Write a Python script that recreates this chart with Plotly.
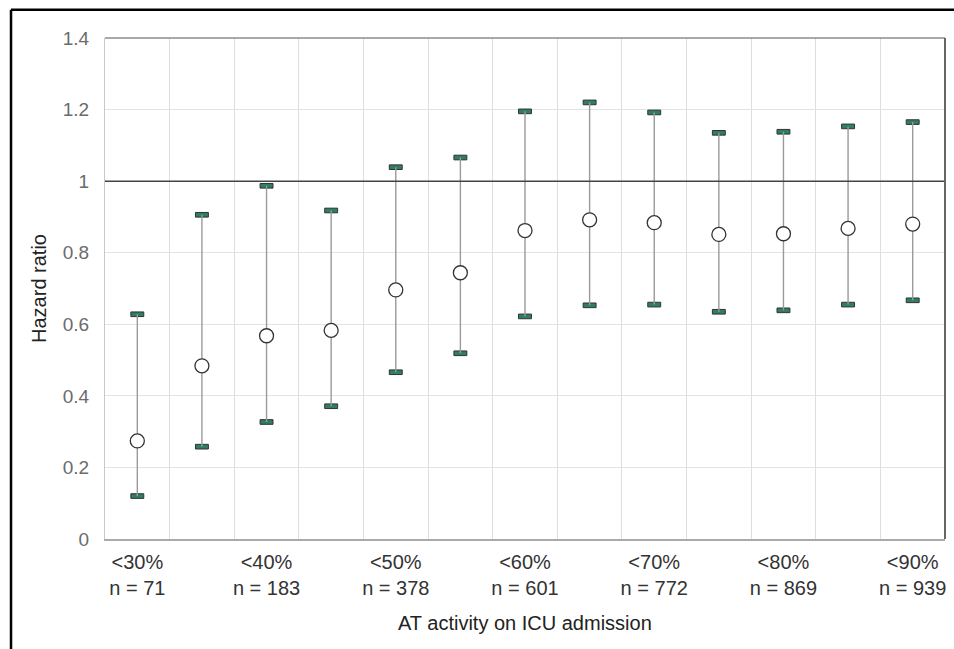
import plotly.graph_objects as go

# ---- data ----
categories = ["<30%", "<35%", "<40%", "<45%", "<50%", "<55%", "<60%",
              "<65%", "<70%", "<75%", "<80%", "<85%", "<90%"]
hazard_ratio = [0.274, 0.484, 0.568, 0.583, 0.696, 0.744, 0.862,
                0.892, 0.884, 0.851, 0.853, 0.868, 0.880]
ci_lower = [0.120, 0.258, 0.327, 0.371, 0.466, 0.519, 0.622,
            0.653, 0.655, 0.635, 0.639, 0.655, 0.667]
ci_upper = [0.628, 0.906, 0.987, 0.918, 1.039, 1.066, 1.195,
            1.220, 1.192, 1.135, 1.138, 1.153, 1.165]

tick_categories = ["<30%", "<40%", "<50%", "<60%", "<70%", "<80%", "<90%"]
tick_n = [71, 183, 378, 601, 772, 869, 939]

y_ticks = [0, 0.2, 0.4, 0.6, 0.8, 1.0, 1.2, 1.4]
reference_value = 1.0
x_title = "AT activity on ICU admission"
y_title = "Hazard ratio"

# ---- derived ----
xpos = list(range(len(categories)))
tick_pos = [categories.index(c) for c in tick_categories]
tick_text = [f"{c}<br>n = {n}" for c, n in zip(tick_categories, tick_n)]
err_plus = [u - h for u, h in zip(ci_upper, hazard_ratio)]
err_minus = [h - l for h, l in zip(hazard_ratio, ci_lower)]

CAP_H = 0.013
FONT = "Liberation Sans, Arial, sans-serif"

fig = go.Figure()

# caps (small green rectangles)
for vals in (ci_upper, ci_lower):
    fig.add_trace(go.Bar(
        x=xpos, y=[CAP_H] * len(vals), base=[v - CAP_H / 2 for v in vals],
        width=0.2,
        marker=dict(color="#2e7f62", line=dict(color="#333333", width=1)),
        showlegend=False, hoverinfo="skip"))

# error whiskers + points
fig.add_trace(go.Scatter(
    x=xpos, y=hazard_ratio, mode="markers",
    error_y=dict(type="data", symmetric=False, array=err_plus,
                 arrayminus=err_minus, color="#9a9a9a", thickness=1.4, width=0),
    marker=dict(symbol="circle", size=14, color="white",
                line=dict(color="#333333", width=1.3)),
    showlegend=False))

fig.update_layout(
    width=954, height=649,
    margin=dict(l=105, r=9, t=38, b=110),
    paper_bgcolor="white", plot_bgcolor="white",
    font=dict(family=FONT, size=19, color="#595959"),
    barmode="overlay",
    xaxis=dict(
        range=[-0.5, len(categories) - 0.5],
        tickmode="array", tickvals=tick_pos, ticktext=tick_text,
        showgrid=False, zeroline=False, automargin=False,
        showline=True, linecolor="#aaaaaa", linewidth=1.5,
        ticks="", ticklabelstandoff=4,
        tickfont=dict(size=20, color="#333333"),
        minor=dict(tickmode="array",
                   tickvals=[p + 0.5 for p in xpos[:-1]],
                   showgrid=True, gridcolor="#dedede", gridwidth=1.2, ticks=""),
        fixedrange=True,
    ),
    yaxis=dict(
        range=[0, 1.4], tickmode="array", tickvals=y_ticks,
        showgrid=True, gridcolor="#e3e3e3", gridwidth=1.2, zeroline=False,
        automargin=False,
        showline=True, linecolor="#c8c8c8", linewidth=1.2,
        ticks="", ticklabelstandoff=11,
        tickfont=dict(size=19, color="#6b6b6b"),
        title=dict(text=y_title,
                   font=dict(size=20, color="#222222"), standoff=10),
        fixedrange=True,
    ),
    annotations=[
        dict(text=x_title, xref="paper", yref="paper", x=0.5, y=-0.1677,
             xanchor="center", yanchor="middle", showarrow=False,
             font=dict(size=20, color="#222222")),
    ],
    shapes=[
        # reference line at HR = 1
        dict(type="line", xref="paper", yref="y", x0=0, x1=1,
             y0=reference_value, y1=reference_value,
             line=dict(color="#444444", width=1.5)),
        # darker top / right plot borders
        dict(type="line", xref="paper", yref="paper", x0=0, x1=1, y0=1, y1=1,
             line=dict(color="#555555", width=1.2)),
        dict(type="line", xref="paper", yref="paper", x0=1, x1=1, y0=0, y1=1,
             line=dict(color="#666666", width=2)),
        # outer black frame (left and top)
        dict(type="line", xref="paper", yref="paper",
             x0=-0.1119, x1=-0.1119, y0=-0.3, y1=1.0565,
             line=dict(color="black", width=2.5)),
        dict(type="line", xref="paper", yref="paper",
             x0=-0.1119, x1=1.1, y0=1.0565, y1=1.0565,
             line=dict(color="black", width=2.5)),
    ],
)

fig.write_html(
    "out.html",
    config={"displayModeBar": False},
    post_script="document.body.style.margin='0';document.body.style.overflow='hidden';",
)
